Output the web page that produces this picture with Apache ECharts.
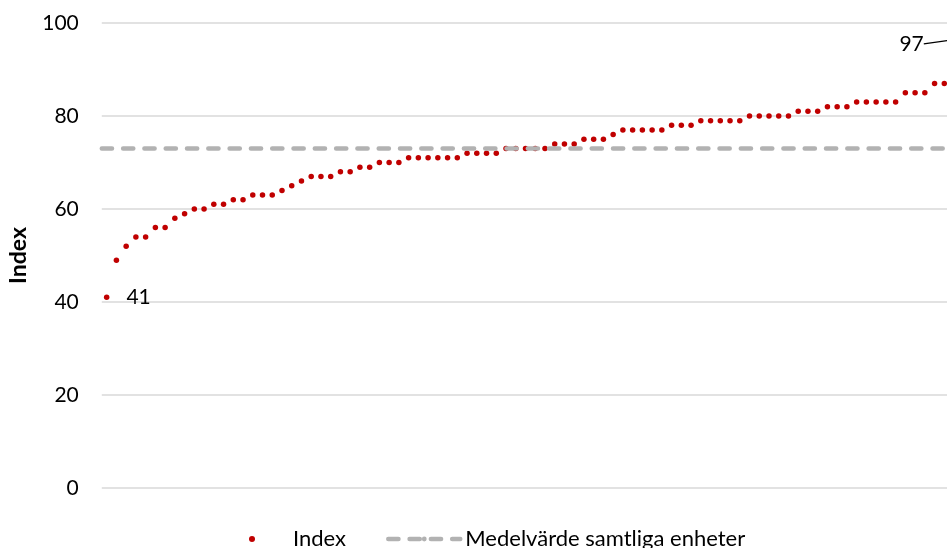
<!DOCTYPE html>
<html><head><meta charset="utf-8">
<script src="https://cdn.jsdelivr.net/npm/echarts@6/dist/echarts.min.js"></script>
<style>html,body{margin:0;padding:0;background:#fff}#c{width:947px;height:548px}</style>
</head><body><div id="c"></div>
<script>
const categories = ['1','2','3','4','5','6','7','8','9','10','11','12','13','14','15','16','17','18','19','20',
  '21','22','23','24','25','26','27','28','29','30','31','32','33','34','35','36','37','38','39','40',
  '41','42','43','44','45','46','47','48','49','50','51','52','53','54','55','56','57','58','59','60',
  '61','62','63','64','65','66','67','68','69','70','71','72','73','74','75','76','77','78','79','80',
  '81','82','83','84','85','86','87','88','89','90'];
const indexValues = [41,49,52,54,54,56,56,58,59,60,60,61,61,62,62,63,63,63,64,65,
  66,67,67,67,68,68,69,69,70,70,70,71,71,71,71,71,71,72,72,72,
  72,73,73,73,73,73,74,74,74,75,75,75,76,77,77,77,77,77,78,78,
  78,79,79,79,79,79,80,80,80,80,80,81,81,81,82,82,82,83,83,83,
  83,83,85,85,85,87,87,88,90,97];
const meanValue = 73;
const yTicks = [0, 20, 40, 60, 80, 100];
const seriesNames = ['Index', 'Medelvärde samtliga enheter'];
const yAxisTitle = 'Index';

const FONT = 'Lato';
const RED = '#c00000';
const GREY = '#b2b2b2';
const DASH = [10.2, 11.1];
const lastIdx = indexValues.length - 1;
const labelText = {fontFamily: FONT, fontSize: 21, color: '#000'};

const chart = echarts.init(document.getElementById('c'), null, {renderer: 'canvas'});
chart.setOption({
  animation: false,
  backgroundColor: '#fff',
  grid: {left: 101.8, top: 23, width: 876.6, height: 465, containLabel: false, outerBoundsMode: 'none'},
  legend: {
    left: 244, top: 523,
    itemWidth: 72, itemHeight: 6, itemGap: 40,
    textStyle: {fontFamily: FONT, fontSize: 22, color: '#000'},
    data: [
      {name: seriesNames[0], icon: 'circle', itemStyle: {color: RED, opacity: 1}},
      {name: seriesNames[1], lineStyle: {color: GREY, width: 4.5, type: DASH, cap: 'round'}}
    ]
  },
  xAxis: {
    type: 'category', data: categories, boundaryGap: true,
    axisLine: {show: false}, axisTick: {show: false}, axisLabel: {show: false}, splitLine: {show: false}
  },
  yAxis: {
    type: 'value', min: yTicks[0], max: yTicks[yTicks.length - 1], interval: 20,
    name: yAxisTitle, nameLocation: 'middle', nameGap: 72, nameRotate: 90,
    nameTextStyle: {fontFamily: FONT, fontSize: 23, fontWeight: 'bold', color: '#000'},
    axisLine: {show: false}, axisTick: {show: false},
    axisLabel: {fontFamily: FONT, fontSize: 21, color: '#000', margin: 23},
    splitLine: {lineStyle: {color: '#d9d9d9', width: 1.5}}
  },
  series: [
    {
      name: seriesNames[1], type: 'line', data: [], symbol: 'none', z: 1,
      lineStyle: {color: GREY, width: 4.5, type: DASH, cap: 'round'},
      itemStyle: {color: GREY},
      markLine: {
        silent: true, symbol: ['none', 'none'], label: {show: false},
        lineStyle: {color: GREY, width: 4.5, type: DASH, cap: 'round'},
        data: [{yAxis: meanValue}]
      }
    },
    {
      name: seriesNames[0], type: 'scatter', z: 3,
      symbol: 'circle', symbolSize: 5.5,
      itemStyle: {color: RED, opacity: 1},
      data: indexValues.map((v, i) => {
        if (i === 0) return {value: v, label: Object.assign({show: true, position: 'right', distance: 17}, labelText)};
        if (i === lastIdx) return {value: v, label: Object.assign({show: true, position: 'left', distance: 5}, labelText), labelLine: {show: true}};
        return v;
      }),
      label: Object.assign({show: false, formatter: '{c}'}, labelText),
      labelLine: {show: false, lineStyle: {color: '#000', width: 1.3}},
      labelLayout: function (p) {
        if (p.dataIndex === lastIdx) return {dx: -42, dy: 7};
        return {};
      }
    }
  ]
});
</script></body></html>
